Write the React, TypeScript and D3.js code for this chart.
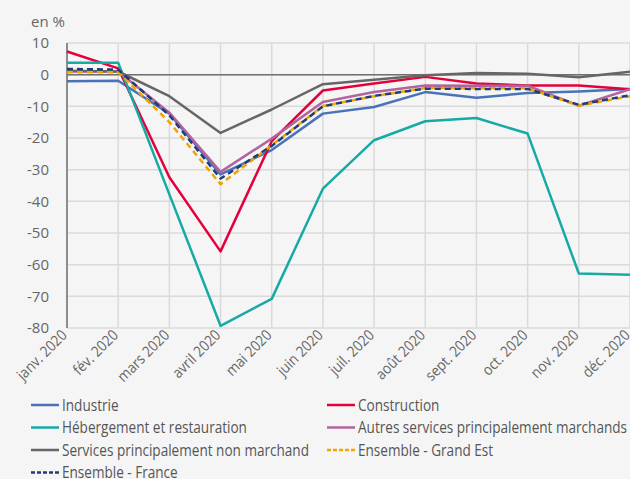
import { useLayoutEffect, useState } from 'react'
import * as d3 from 'd3'

const months = ['janv. 2020', 'fév. 2020', 'mars 2020', 'avril 2020', 'mai 2020', 'juin 2020',
  'juil. 2020', 'août 2020', 'sept. 2020', 'oct. 2020', 'nov. 2020', 'déc. 2020']

const industrie     = [-2.1, -1.9, -12.3, -31.5, -23.8, -12.3, -10.2, -5.5, -7.3, -5.8, -5.3, -4.5]
const construction  = [7.3, 2.0, -32.4, -55.8, -21.0, -5.0, -2.8, -0.7, -2.8, -3.4, -3.4, -4.6]
const hebergement   = [3.8, 3.8, -37.8, -79.3, -70.8, -36.0, -20.7, -14.7, -13.7, -18.6, -62.8, -63.2]
const autres        = [1.0, 1.0, -12.0, -30.7, -20.2, -8.6, -5.5, -3.4, -3.5, -3.5, -9.8, -4.6]
const nonMarchand   = [1.2, 1.0, -6.8, -18.4, -11.0, -3.0, -1.6, -0.2, 0.5, 0.3, -0.8, 0.9]
const grandEst      = [0.8, 0.8, -15.0, -34.6, -22.3, -9.9, -6.8, -4.2, -4.3, -4.3, -9.8, -6.8]
const france        = [1.8, 1.6, -12.8, -32.8, -22.5, -10.0, -6.7, -4.4, -4.5, -4.5, -9.5, -6.5]

const yTicks = [10, 0, -10, -20, -30, -40, -50, -60, -70, -80]

const series = [
  { name: 'Industrie', values: industrie, color: '#4a72b8', dash: '' },
  { name: 'Construction', values: construction, color: '#e5003c', dash: '' },
  { name: 'Hébergement et restauration', values: hebergement, color: '#16aaa5', dash: '' },
  { name: 'Autres services principalement marchands', values: autres, color: '#b2649c', dash: '' },
  { name: 'Services principalement non marchand', values: nonMarchand, color: '#666666', dash: '' },
  { name: 'Ensemble - Grand Est', values: grandEst, color: '#f0a500', dash: '6 4' },
  { name: 'Ensemble - France', values: france, color: '#1f3d7a', dash: '6 4' },
]

const W = 630, H = 479
const left = 67, right = 630, top = 43, bottom = 328
const font = '"Open Sans", sans-serif'

export default function App() {
  const [squeeze, setSqueeze] = useState(0.8)

  // the source uses a condensed face; squeeze Open Sans to the same width
  useLayoutEffect(() => {
    const ctx = document.createElement('canvas').getContext('2d')
    if (!ctx) return
    ctx.font = '16px "Open Sans"'
    const len = ctx.measureText('Services principalement non marchand').width
    if (len > 0) setSqueeze(247 / len)
  }, [])

  const x = d3.scalePoint<string>().domain(months).range([left, right])
  const y = d3.scaleLinear().domain([-80, 10]).range([bottom, top])

  const line = d3.line<number>()
    .x((_, i) => x(months[i])!)
    .y(d => y(d))

  return (
    <svg width={W} height={H} style={{ position: 'absolute', left: 0, top: 0, display: 'block' }}>
      <rect width={W} height={H} fill="#f5f5f5" />

      {/* grid */}
      {yTicks.map(t => (
        <line key={'h' + t} x1={left} x2={right} y1={y(t)} y2={y(t)} stroke="#dadada" strokeWidth={1.5} />
      ))}
      {months.map(m => (
        <line key={'v' + m} x1={x(m)} x2={x(m)} y1={top} y2={bottom} stroke="#dadada" strokeWidth={1.5} />
      ))}
      <line x1={left} x2={right} y1={y(0)} y2={y(0)} stroke="#707070" strokeWidth={1.5} />
      <line x1={left} x2={left} y1={top} y2={bottom} stroke="#707070" strokeWidth={1.5} />

      {/* y labels */}
      <text x={31} y={27} fontFamily={font} fontSize={15} fill="#666">en %</text>
      {yTicks.map(t => (
        <text key={'yl' + t} x={49} y={y(t)} dy="0.36em" textAnchor="end" fontFamily={font} fontSize={15} fill="#666">
          {t}
        </text>
      ))}

      {/* x labels */}
      {months.map(m => (
        <text key={'xl' + m}
          transform={`translate(${x(m)! + 1},${bottom + 8}) rotate(-45) scale(${squeeze + 0.05},1)`}
          textAnchor="end" fontFamily={font} fontSize={15} fill="#666">
          {m}
        </text>
      ))}

      {/* lines */}
      {series.map(s => (
        <path key={s.name} d={line(s.values)!} fill="none" stroke={s.color} strokeWidth={2.5}
          strokeDasharray={s.dash || undefined} strokeLinejoin="round" />
      ))}

      {/* legend */}
      {series.map((s, i) => {
        const lx = i % 2 === 0 ? 31 : 327
        const ly = 405 + Math.floor(i / 2) * 22.5
        return (
          <g key={'lg' + s.name}>
            <line x1={lx} x2={lx + 28} y1={ly} y2={ly} stroke={s.color} strokeWidth={2.5}
              strokeDasharray={s.dash ? '4 2' : undefined} />
            <text transform={`translate(${lx + 31},${ly}) scale(${squeeze},1)`} dy="0.35em"
              fontFamily={font} fontSize={16} fill="#555">{s.name}</text>
          </g>
        )
      })}
    </svg>
  )
}
